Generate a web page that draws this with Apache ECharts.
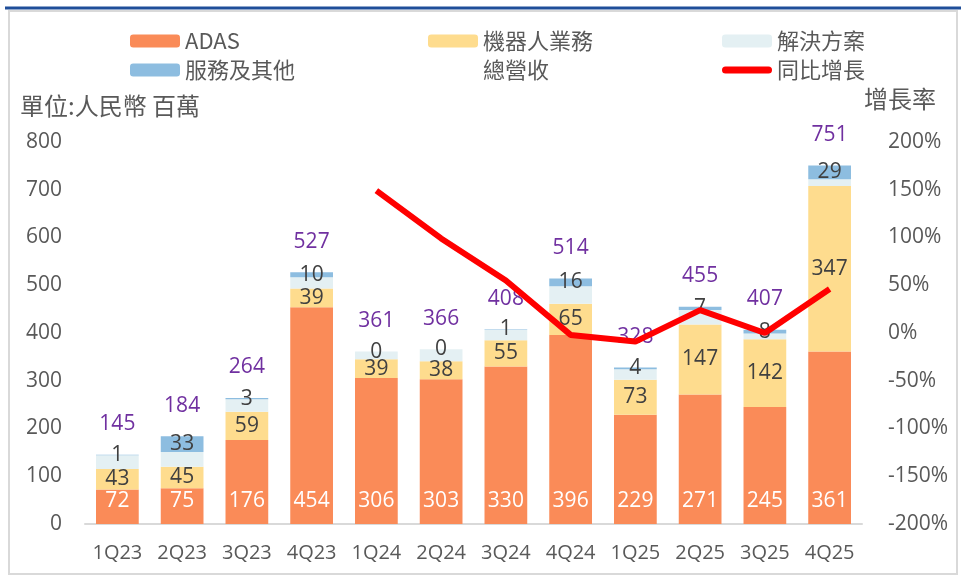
<!DOCTYPE html>
<html>
<head>
<meta charset="utf-8">
<script src="https://cdn.jsdelivr.net/npm/echarts@6/dist/echarts.min.js"></script>
<style>
  html, body { margin: 0; padding: 0; background: #fff; }
  #chart { width: 961px; height: 579px; }
</style>
</head>
<body>
<div id="chart"></div>
<script>
var quarters = ['1Q23', '2Q23', '3Q23', '4Q23', '1Q24', '2Q24', '3Q24', '4Q24', '1Q25', '2Q25', '3Q25', '4Q25'];
var adas = [72, 75, 176, 454, 306, 303, 330, 396, 229, 271, 245, 361];
var robot = [43, 45, 59, 39, 39, 38, 55, 65, 73, 147, 142, 347];
var solution = [29, 31, 26, 24, 16, 25, 22, 37, 22, 30, 12, 14];
var service = [1, 33, 3, 10, 0, 0, 1, 16, 4, 7, 8, 29];
var totals = [145, 184, 264, 527, 361, 366, 408, 514, 328, 455, 407, 751];
var growth = [null, null, null, null, 149, 99, 55, -2, -9, 24, 0, 46];

(function(){
	var chart = echarts.init(document.getElementById('chart'));
	var numFont = 'Open Sans';
	var cjkFont = 'Noto Sans CJK TC';
	var legendText = { color: '#595959', fontSize: 22, fontFamily: cjkFont };
	// thick rounded line for the growth legend icon
	var lineIcon = 'path://M3.5,0 L46.5,0 A3.5,3.5 0 0 1 46.5,7 L3.5,7 A3.5,3.5 0 0 1 3.5,0 Z';

	function legend(left, names) {
		return {
			orient: 'vertical',
			left: left,
			top: 30,
			padding: 0,
			itemWidth: 50,
			itemHeight: 13,
			itemGap: 7,
			textStyle: legendText,
			data: names
		};
	}

	var option = {
		backgroundColor: '#fff',
		animation: false,
		legend: [
			legend(130, ['ADAS', '服務及其他']),
			legend(428, ['機器人業務', { name: '總營收', itemStyle: { opacity: 0 }, lineStyle: { opacity: 0 } }]),
			legend(722, ['解決方案', { name: '同比增長', icon: lineIcon, itemStyle: { color: '#FF0000' } }])
		],
		graphic: [
			{ type: 'line', shape: { x1: 5, y1: 8, x2: 961, y2: 8 }, style: { stroke: '#1F4E99', lineWidth: 3 } },
			{ type: 'rect', shape: { x: 9, y: 11, width: 948, height: 563 }, style: { fill: 'none', stroke: '#D9D9D9', lineWidth: 2 } },
			{ type: 'text', left: 20, top: 94, style: { text: '單位:人民幣 百萬', fill: '#595959', font: '24px "Noto Sans CJK TC"' } },
			{ type: 'text', left: 864, top: 87, style: { text: '增長率', fill: '#595959', font: '24px "Noto Sans CJK TC"' } }
		],
		grid: {
			left: 85,
			right: 99,
			top: 142,
			bottom: 55
		},
		xAxis: {
			type: 'category',
			data: quarters,
			axisTick: { show: false },
			axisLine: { lineStyle: { color: '#D9D9D9', width: 2 } },
			axisLabel: { interval: 0, color: '#595959', fontSize: 20, fontFamily: numFont, margin: 19 }
		},
		yAxis: [{
			type: 'value',
			min: 0,
			max: 800,
			interval: 100,
			splitLine: { show: false },
			axisLine: { show: false },
			axisLabel: { color: '#595959', fontSize: 21, fontFamily: numFont, margin: 23 }
		}, {
			type: 'value',
			min: -200,
			max: 200,
			interval: 50,
			splitLine: { show: false },
			axisLine: { show: false },
			axisLabel: { color: '#595959', fontSize: 21, fontFamily: numFont, margin: 26, formatter: '{value}%' }
		}],
		series: [{
			name: 'ADAS',
			type: 'bar',
			stack: 'rev',
			barCategoryGap: '34%',
			data: adas,
			itemStyle: { color: '#FA8B58' },
			label: { show: true, position: 'insideBottom', distance: 12, color: '#fff', fontSize: 21, fontFamily: numFont }
		}, {
			name: '機器人業務',
			type: 'bar',
			stack: 'rev',
			data: robot,
			itemStyle: { color: '#FEDC8E' },
			label: { show: true, position: 'inside', color: '#404040', fontSize: 21, fontFamily: numFont }
		}, {
			name: '解決方案',
			type: 'bar',
			stack: 'rev',
			data: solution,
			itemStyle: { color: '#E4F0F3' }
		}, {
			name: '服務及其他',
			type: 'bar',
			stack: 'rev',
			data: service,
			itemStyle: { color: '#8DBDE0' },
			label: { show: true, position: 'inside', color: '#404040', fontSize: 21, fontFamily: numFont }
		}, {
			name: '總營收',
			type: 'line',
			data: totals,
			symbol: 'circle',
			symbolSize: 0,
			lineStyle: { width: 0, opacity: 0 },
			itemStyle: { color: '#7030A0' },
			label: { show: true, position: 'top', distance: 20, color: '#7030A0', fontSize: 21, fontFamily: numFont }
		}, {
			name: '同比增長',
			type: 'line',
			yAxisIndex: 1,
			z: 5,
			data: growth,
			symbol: 'none',
			itemStyle: { color: '#FF0000' },
			lineStyle: { color: '#FF0000', width: 6 }
		}]
	};

	chart.setOption(option);
})();
</script>
</body>
</html>
